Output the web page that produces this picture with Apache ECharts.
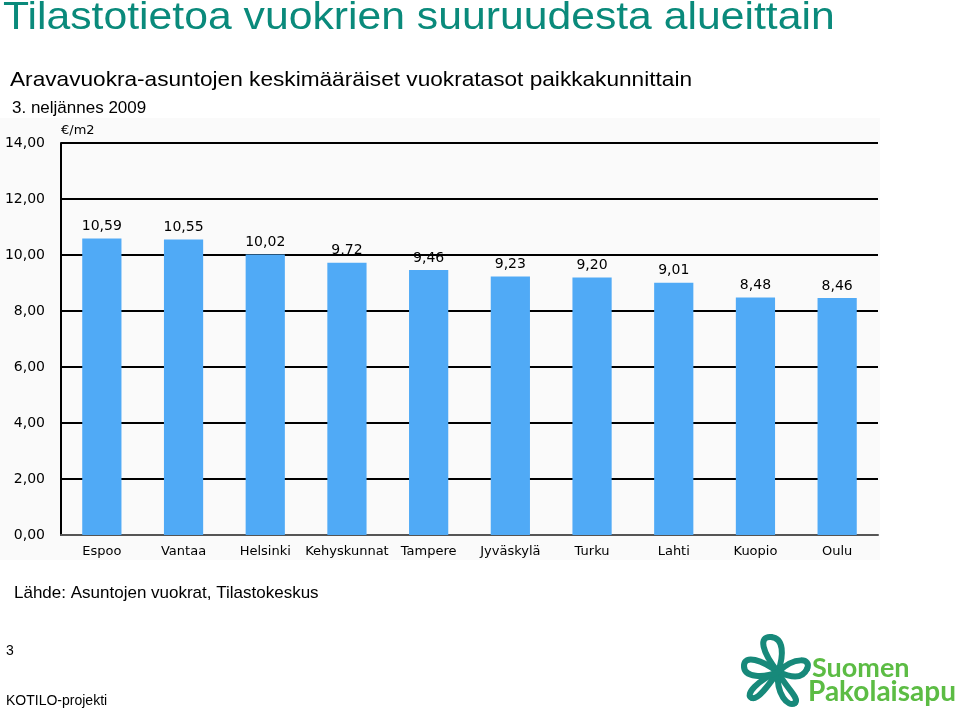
<!DOCTYPE html>
<html>
<head>
<meta charset="utf-8">
<script src="https://cdn.jsdelivr.net/npm/echarts@6/dist/echarts.min.js"></script>
<style>
html,body{margin:0;padding:0;background:#fff;}
#c{width:960px;height:711px;}
</style>
</head>
<body>
<div id="c"></div>
<script>
var categories = ['Espoo', 'Vantaa', 'Helsinki', 'Kehyskunnat', 'Tampere', 'Jyväskylä', 'Turku', 'Lahti', 'Kuopio', 'Oulu'];
var rents = [10.59, 10.55, 10.02, 9.72, 9.46, 9.23, 9.20, 9.01, 8.48, 8.46];
var yMin = 0, yMax = 14, yStep = 2;

function fi(v) { return Number(v).toFixed(2).replace('.', ','); }

var chart = echarts.init(document.getElementById('c'), null, {renderer: 'canvas'});
var sans = 'Liberation Sans, Arial, sans-serif';
var chartFont = 'DejaVu Sans, Verdana, sans-serif';
var teal = '#17897a';

// logo swirl: each loop = two cubic curves [x1,y1,cp1x,cp1y,cp2x,cp2y,x2,y2]
var swirlCurves = [
  [778,672, 762,652, 758,636, 771,637], [771,637, 784,638, 784,655, 778,672],
  [778,672, 795,656, 812,658, 807,669], [807,669, 802,680, 790,677, 778,672],
  [778,672, 762,660, 744,654, 744,666], [744,666, 744,678, 764,678, 778,672],
  [778,672, 786,688, 800,698, 795,703], [795,703, 788,708, 776,694, 778,672],
  [778,672, 768,686, 758,700, 752,698], [752,698, 744,695, 758,680, 778,672]
];

var option = {
  animation: false,
  backgroundColor: '#ffffff',
  grid: {left: 61, right: 82, top: 143, bottom: 176, containLabel: false},
  xAxis: {
    type: 'category',
    data: categories,
    axisLine: {show: true, lineStyle: {color: '#555', width: 2}},
    axisTick: {show: false},
    axisLabel: {interval: 0, color: '#000', fontFamily: chartFont, fontSize: 13, margin: 10}
  },
  yAxis: {
    type: 'value',
    min: yMin, max: yMax, interval: yStep,
    name: '€/m2',
    nameLocation: 'end',
    nameGap: 6,
    nameTextStyle: {color: '#000', fontFamily: chartFont, fontSize: 13, align: 'left'},
    axisLine: {show: true, lineStyle: {color: '#000', width: 2}},
    axisTick: {show: false},
    axisLabel: {color: '#000', fontFamily: chartFont, fontSize: 14, margin: 16, formatter: fi},
    splitLine: {show: true, lineStyle: {color: '#000', width: 2}}
  },
  series: [{
    type: 'bar',
    data: rents,
    barWidth: '48%',
    itemStyle: {color: '#50aaf6'},
    label: {show: true, position: 'top', distance: 5, color: '#000', fontFamily: chartFont, fontSize: 14, formatter: function (p) { return fi(p.value); }}
  }],
  graphic: [
    {type: 'rect', z: -10, silent: true, shape: {x: 0, y: 118, width: 880, height: 442}, style: {fill: '#fafafa'}},
    {type: 'text', x: 3, y: 18, scaleX: 1.095, style: {text: 'Tilastotietoa vuokrien suuruudesta alueittain', x: 0, y: 0, font: '39px ' + sans, fill: '#0a8a7b', verticalAlign: 'middle'}},
    {type: 'text', x: 10, y: 80, scaleX: 1.078, style: {text: 'Aravavuokra-asuntojen keskimääräiset vuokratasot paikkakunnittain', x: 0, y: 0, font: '21px ' + sans, fill: '#000', verticalAlign: 'middle'}},
    {type: 'text', style: {text: '3. neljännes 2009', x: 12, y: 108, font: '17px ' + sans, fill: '#000', verticalAlign: 'middle'}},
    {type: 'text', style: {text: 'Lähde: Asuntojen vuokrat, Tilastokeskus', x: 14, y: 593, font: '17px ' + sans, fill: '#000', verticalAlign: 'middle'}},
    {type: 'text', style: {text: '3', x: 6, y: 651, font: '14px ' + sans, fill: '#000', verticalAlign: 'middle'}},
    {type: 'text', style: {text: 'KOTILO-projekti', x: 6, y: 701, font: '14px ' + sans, fill: '#000', verticalAlign: 'middle'}},
    {type: 'text', style: {text: 'Suomen', x: 812, y: 668, font: 'bold 27px Lato, ' + sans, fill: '#5cbc44', verticalAlign: 'middle'}},
    {type: 'text', style: {text: 'Pakolaisapu', x: 808, y: 692, font: 'bold 28px Lato, ' + sans, fill: '#5cbc44', verticalAlign: 'middle'}}
  ].concat(swirlCurves.map(function (c) {
    return {type: 'bezierCurve', shape: {x1: c[0], y1: c[1], cpx1: c[2], cpy1: c[3], cpx2: c[4], cpy2: c[5], x2: c[6], y2: c[7]},
      style: {fill: null, stroke: teal, lineWidth: 6, lineCap: 'round'}};
  }))
};
chart.setOption(option);
</script>
</body>
</html>
